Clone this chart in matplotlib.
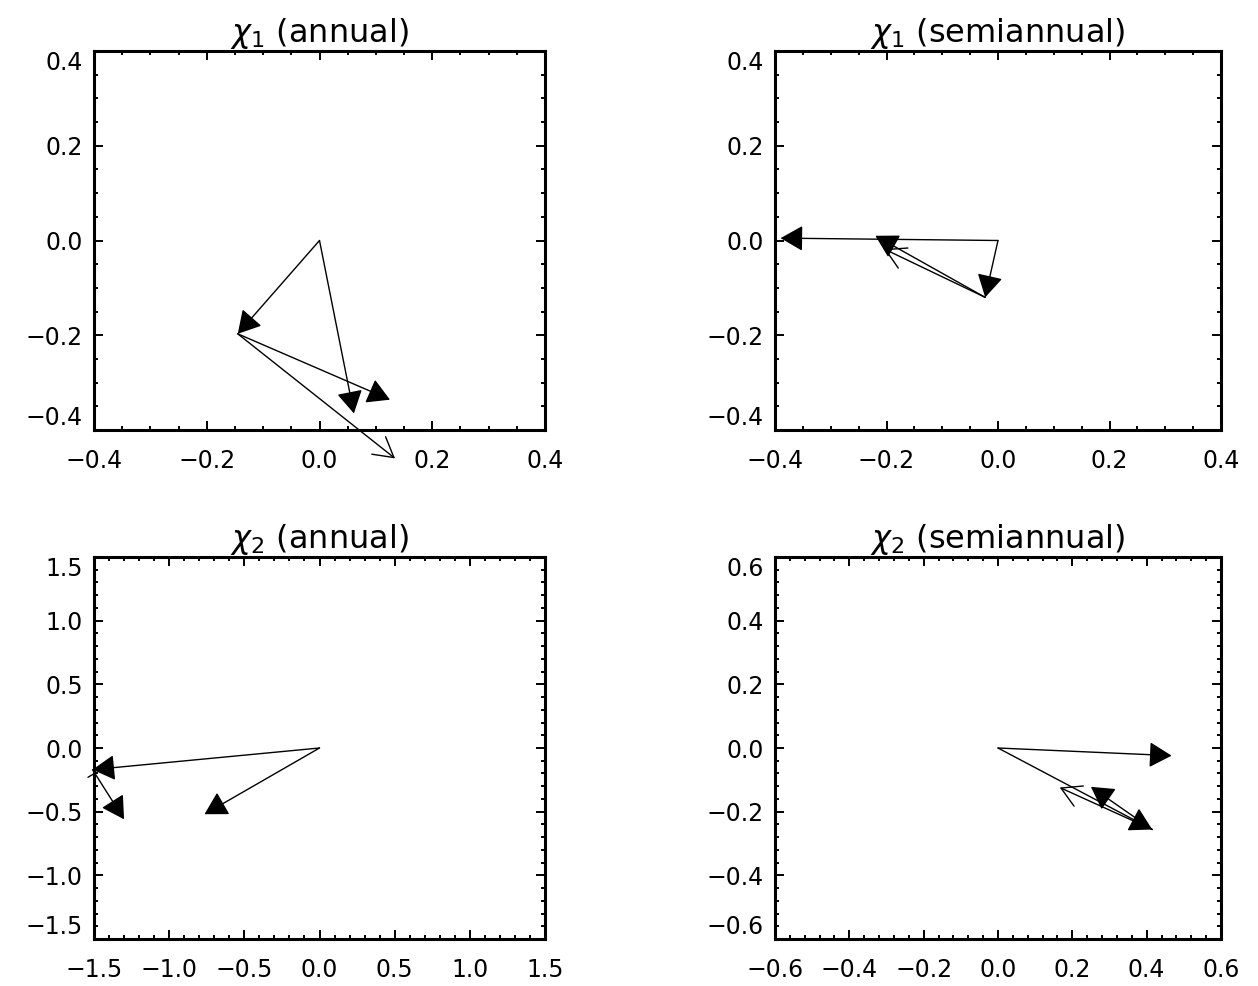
import matplotlib
matplotlib.use("Agg")
import matplotlib.pyplot as plt
from matplotlib.ticker import MultipleLocator, FuncFormatter

# ---------------- data ----------------
titles = [r"$\chi_1$ (annual)", r"$\chi_1$ (semiannual)",
          r"$\chi_2$ (annual)", r"$\chi_2$ (semiannual)"]

# chi1 annual
tl_x0 = [0.0, 0.0, -0.145, -0.145]
tl_y0 = [0.0, 0.0, -0.197, -0.197]
tl_x1 = [-0.145, 0.061, 0.125, 0.134]
tl_y1 = [-0.197, -0.365, -0.336, -0.460]

# chi1 semiannual
tr_x0 = [0.0, 0.0, -0.023, -0.023]
tr_y0 = [0.0, 0.0, -0.120, -0.120]
tr_x1 = [-0.023, -0.390, -0.220, -0.204]
tr_y1 = [-0.120, 0.005, 0.010, -0.018]

# chi2 annual
bl_x0 = [0.0, 0.0, -1.51, -1.49]
bl_y0 = [0.0, 0.0, -0.17, -0.195]
bl_x1 = [-1.51, -0.765, -1.30, -1.54]
bl_y1 = [-0.17, -0.52, -0.56, -0.23]

# chi2 semiannual
br_x0 = [0.0, 0.0, 0.415, 0.415]
br_y0 = [0.0, 0.0, -0.256, -0.256]
br_x1 = [0.415, 0.467, 0.250, 0.166]
br_y1 = [-0.256, -0.024, -0.122, -0.124]

head_kinds = [["filled", "filled", "filled", "open"],
              ["filled", "filled", "filled", "open"],
              ["filled", "filled", "filled", "none"],
              ["filled", "filled", "filled", "open"]]

limits = [0.4, 0.4, 1.5, 0.6]
majors = [0.2, 0.2, 0.5, 0.2]
minors = [0.05, 0.05, 0.1, 0.04]

# ---------------- figure ----------------
W, H = 1258, 986
plt.rcParams['font.family'] = ['DejaVu Sans']
fig = plt.figure(figsize=(W / 100, H / 100), dpi=100)

boxes = [(94, 51, 545, 430), (775, 51, 1221, 430),
         (94, 557, 545, 939), (775, 557, 1221, 939)]

arrows = [(tl_x0, tl_y0, tl_x1, tl_y1), (tr_x0, tr_y0, tr_x1, tr_y1),
          (bl_x0, bl_y0, bl_x1, bl_y1), (br_x0, br_y0, br_x1, br_y1)]

styles = {
    "filled": "-|>,head_length=14,head_width=8",
    "open": "->,head_length=14,head_width=8",
    "none": "-",
}


def fmt(v, pos):
    s = "%.1f" % v
    if s == "-0.0":
        s = "0.0"
    return s.replace("-", "\u2212")


FS = 17
for i in range(4):
    l, t, r, b = boxes[i]
    ax = fig.add_axes([l / W, 1 - b / H, (r - l) / W, (b - t) / H])
    lim = limits[i]
    ax.set_xlim(-lim, lim)
    ax.set_ylim(-lim, lim)
    ax.xaxis.set_major_locator(MultipleLocator(majors[i]))
    ax.yaxis.set_major_locator(MultipleLocator(majors[i]))
    ax.xaxis.set_minor_locator(MultipleLocator(minors[i]))
    ax.yaxis.set_minor_locator(MultipleLocator(minors[i]))
    ax.xaxis.set_major_formatter(FuncFormatter(fmt))
    ax.yaxis.set_major_formatter(FuncFormatter(fmt))
    ax.tick_params(which='both', direction='in', top=True, right=True,
                   width=1.4, labelsize=FS, colors='black')
    ax.tick_params(which='major', length=6.5)
    ax.tick_params(which='minor', length=3.2)
    ax.tick_params(axis='x', which='major', pad=14)
    ax.tick_params(axis='y', which='major', pad=8)
    for s in ax.spines.values():
        s.set_linewidth(2.2)

    xs0, ys0, xs1, ys1 = arrows[i]
    for k in range(len(xs0)):
        ax.annotate('', xy=(xs1[k], ys1[k]), xytext=(xs0[k], ys0[k]),
                    xycoords='data', textcoords='data',
                    annotation_clip=False,
                    arrowprops=dict(arrowstyle=styles[head_kinds[i][k]],
                                    mutation_scale=1, shrinkA=0, shrinkB=0,
                                    lw=1.0, color='black'))

    ax.set_title(titles[i], fontsize=23, pad=5)

    fig.canvas.draw()
    ylabs = ax.get_yticklabels()
    vis = [lab for lab, loc in zip(ylabs, ax.get_yticks())
           if -lim - 1e-9 <= loc <= lim + 1e-9]
    if vis:
        vis[0].set_va('bottom')
        vis[-1].set_va('top')

fig.savefig("out.png", dpi=100)
